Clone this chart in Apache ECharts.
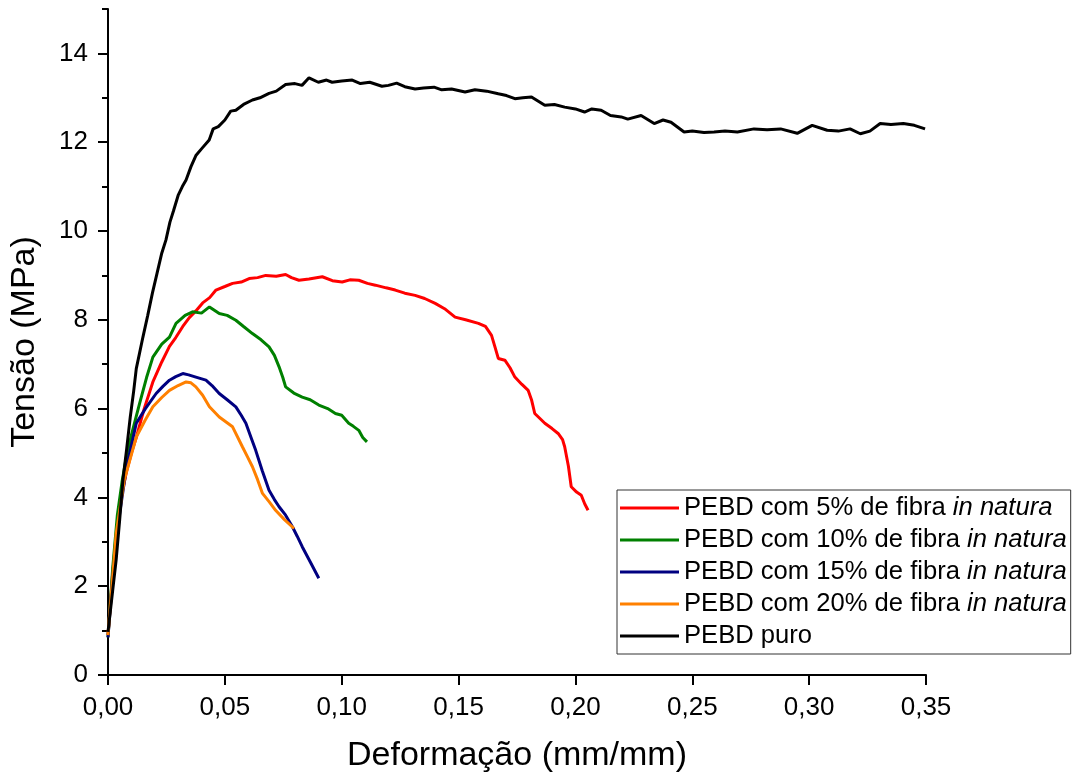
<!DOCTYPE html>
<html>
<head>
<meta charset="utf-8">
<script src="https://cdn.jsdelivr.net/npm/echarts@6/dist/echarts.min.js"></script>
<style>html,body{margin:0;padding:0;background:#fff}#c{width:1079px;height:778px}</style>
</head>
<body>
<div id="c"></div>
<script>
// ---------- DATA ----------
const seriesNames = [
  'PEBD com 5% de fibra in natura',
  'PEBD com 10% de fibra in natura',
  'PEBD com 15% de fibra in natura',
  'PEBD com 20% de fibra in natura',
  'PEBD puro'
];
const seriesColors = ['#ff0000', '#008000', '#000080', '#ff8000', '#000000'];

const strain5 = [0, 0.002, 0.004, 0.006, 0.008, 0.01, 0.0121, 0.0155, 0.0192, 0.023, 0.0263, 0.029, 0.032, 0.0348, 0.0376, 0.0405, 0.0435, 0.0462, 0.05, 0.0533, 0.057, 0.0604, 0.064, 0.0675, 0.072, 0.076, 0.0785, 0.0817, 0.086, 0.0917, 0.096, 0.1002, 0.1035, 0.1073, 0.111, 0.1144, 0.119, 0.1229, 0.127, 0.1314, 0.1355, 0.14, 0.144, 0.1485, 0.153, 0.1585, 0.1615, 0.1641, 0.1655, 0.167, 0.1698, 0.172, 0.1741, 0.177, 0.1798, 0.1812, 0.1826, 0.1869, 0.19, 0.1926, 0.1945, 0.1954, 0.197, 0.1982, 0.2005, 0.2025, 0.204, 0.2054];
const stress5 = [0.9, 2.3, 3.4, 4.1, 4.6, 5.0, 5.35, 6.0, 6.6, 7.05, 7.4, 7.6, 7.85, 8.05, 8.2, 8.38, 8.5, 8.67, 8.75, 8.82, 8.85, 8.93, 8.95, 9.0, 8.98, 9.02, 8.95, 8.89, 8.92, 8.97, 8.88, 8.85, 8.9, 8.89, 8.82, 8.78, 8.72, 8.67, 8.6, 8.55, 8.48, 8.37, 8.25, 8.06, 8.0, 7.92, 7.85, 7.65, 7.4, 7.13, 7.09, 6.92, 6.71, 6.55, 6.41, 6.2, 5.89, 5.67, 5.55, 5.44, 5.3, 5.14, 4.7, 4.24, 4.12, 4.05, 3.85, 3.71];

const strain10 = [0, 0.002, 0.004, 0.006, 0.008, 0.01, 0.0135, 0.0165, 0.0192, 0.023, 0.0263, 0.0291, 0.033, 0.0362, 0.04, 0.0434, 0.0476, 0.051, 0.0547, 0.058, 0.0618, 0.0655, 0.0689, 0.0712, 0.0732, 0.0748, 0.076, 0.0795, 0.0831, 0.0865, 0.0902, 0.094, 0.0973, 0.1, 0.103, 0.105, 0.1073, 0.109, 0.1108];
const stress10 = [0.85, 2.4, 3.6, 4.35, 4.95, 5.4, 6.11, 6.7, 7.16, 7.45, 7.61, 7.92, 8.1, 8.18, 8.15, 8.29, 8.14, 8.1, 7.99, 7.85, 7.69, 7.55, 7.39, 7.2, 6.94, 6.7, 6.49, 6.35, 6.26, 6.2, 6.08, 6.0, 5.89, 5.85, 5.67, 5.6, 5.51, 5.35, 5.25];

const strain15 = [0, 0.002, 0.005, 0.008, 0.0121, 0.016, 0.0206, 0.0235, 0.0263, 0.029, 0.032, 0.0345, 0.0376, 0.0419, 0.0445, 0.0476, 0.051, 0.0547, 0.057, 0.059, 0.0612, 0.0632, 0.066, 0.0689, 0.0712, 0.0732, 0.076, 0.0789, 0.081, 0.0831, 0.0865, 0.0902];
const stress15 = [0.85, 2.2, 3.64, 4.7, 5.67, 6.0, 6.34, 6.5, 6.64, 6.72, 6.79, 6.76, 6.71, 6.64, 6.52, 6.34, 6.2, 6.04, 5.85, 5.67, 5.35, 5.06, 4.6, 4.16, 3.95, 3.79, 3.6, 3.34, 3.12, 2.89, 2.55, 2.18];

const strain20 = [0, 0.0035, 0.007, 0.0121, 0.016, 0.0192, 0.023, 0.0263, 0.03, 0.0334, 0.0355, 0.0376, 0.0405, 0.0434, 0.0476, 0.0533, 0.0575, 0.0598, 0.0618, 0.064, 0.0661, 0.069, 0.0717, 0.0755, 0.0796];
const stress20 = [0.9, 3.19, 4.4, 5.36, 5.75, 6.04, 6.25, 6.41, 6.52, 6.6, 6.58, 6.49, 6.3, 6.04, 5.81, 5.59, 5.14, 4.9, 4.69, 4.4, 4.09, 3.9, 3.71, 3.5, 3.3];

const strainPuro = [0, 0.002, 0.0035, 0.005, 0.0064, 0.008, 0.0095, 0.011, 0.0121, 0.0135, 0.0149, 0.017, 0.019, 0.021, 0.023, 0.0248, 0.0265, 0.028, 0.03, 0.0318, 0.0334, 0.0355, 0.0376, 0.04, 0.0433, 0.045, 0.0472, 0.05, 0.0525, 0.0547, 0.058, 0.0618, 0.065, 0.0689, 0.072, 0.076, 0.08, 0.083, 0.086, 0.09, 0.0935, 0.0959, 0.1, 0.1045, 0.108, 0.112, 0.1172, 0.12, 0.1235, 0.127, 0.1314, 0.135, 0.1395, 0.1428, 0.147, 0.1528, 0.157, 0.162, 0.167, 0.1705, 0.1741, 0.1775, 0.1812, 0.1869, 0.191, 0.1954, 0.2, 0.2039, 0.207, 0.211, 0.215, 0.2196, 0.2224, 0.2281, 0.2337, 0.2375, 0.2409, 0.2465, 0.25, 0.255, 0.2593, 0.264, 0.2693, 0.2764, 0.282, 0.2878, 0.2949, 0.3013, 0.3077, 0.3125, 0.3175, 0.3219, 0.326, 0.3304, 0.335, 0.3403, 0.345, 0.3496];
const stressPuro = [0.97, 1.9, 2.6, 3.5, 4.4, 5.1, 5.8, 6.4, 6.9, 7.25, 7.6, 8.1, 8.6, 9.05, 9.5, 9.8, 10.2, 10.45, 10.8, 11.0, 11.15, 11.45, 11.7, 11.85, 12.05, 12.3, 12.35, 12.5, 12.7, 12.72, 12.85, 12.95, 13.0, 13.1, 13.15, 13.3, 13.32, 13.28, 13.45, 13.35, 13.4, 13.35, 13.38, 13.4, 13.32, 13.35, 13.26, 13.28, 13.33, 13.25, 13.2, 13.22, 13.24, 13.18, 13.2, 13.13, 13.18, 13.15, 13.09, 13.05, 12.98, 13.0, 13.02, 12.83, 12.85, 12.79, 12.75, 12.68, 12.75, 12.72, 12.6, 12.57, 12.52, 12.6, 12.42, 12.5, 12.45, 12.23, 12.25, 12.22, 12.23, 12.25, 12.23, 12.3, 12.28, 12.3, 12.2, 12.38, 12.27, 12.25, 12.3, 12.19, 12.25, 12.42, 12.4, 12.42, 12.38, 12.3];

const yMajorTicks = [0, 2, 4, 6, 8, 10, 12, 14];
const yMinorTicks = [1, 3, 5, 7, 9, 11, 13, 15];
const xAxisTitle = 'Deformação (mm/mm)';
const yAxisTitle = 'Tensão (MPa)';

// ---------- CHART ----------
const FONT = '"Liberation Sans", Arial, sans-serif';
const zip = (xs, ys) => xs.map((x, i) => [x, ys[i]]);
const allData = [
  zip(strain5, stress5),
  zip(strain10, stress10),
  zip(strain15, stress15),
  zip(strain20, stress20),
  zip(strainPuro, stressPuro)
];

const chart = echarts.init(document.getElementById('c'), null, {renderer: 'canvas'});
const axisLine = {show: true, lineStyle: {color: '#000', width: 2}};

chart.setOption({
  animation: false,
  backgroundColor: '#fff',
  grid: {left: 105, right: 153, top: 9, bottom: 103, containLabel: false},
  xAxis: {
    type: 'value', min: 0, max: 0.35, interval: 0.05,
    axisLine: axisLine,
    axisTick: {show: true, inside: false, length: 10, lineStyle: {color: '#000', width: 2}},
    axisLabel: {
      margin: 20, fontSize: 26, color: '#000', fontFamily: FONT,
      formatter: v => v.toFixed(2).replace('.', ',')
    },
    splitLine: {show: false},
    name: xAxisTitle, nameLocation: 'middle', nameGap: 64,
    nameTextStyle: {fontSize: 34, color: '#000', fontFamily: FONT}
  },
  yAxis: [{
    type: 'value', min: 0, max: 15,
    axisLine: axisLine,
    axisTick: {show: true, inside: false, length: 10, customValues: yMajorTicks, lineStyle: {color: '#000', width: 2}},
    axisLabel: {margin: 20, fontSize: 26, color: '#000', fontFamily: FONT, customValues: yMajorTicks},
    splitLine: {show: false},
    name: yAxisTitle, nameLocation: 'middle', nameGap: 66,
    nameTextStyle: {fontSize: 34, color: '#000', fontFamily: FONT}
  }, {
    type: 'value', min: 0, max: 15, position: 'left',
    axisLine: {show: false},
    axisTick: {show: true, inside: false, length: 6, customValues: yMinorTicks, lineStyle: {color: '#000', width: 2}},
    axisLabel: {show: false},
    splitLine: {show: false}
  }],
  legend: {
    orient: 'vertical', left: 617, top: 490,
    borderColor: '#333', borderWidth: 1, backgroundColor: '#fff',
    padding: [5, 4, 5, 3], itemGap: 6, itemWidth: 59, itemHeight: 3,
    icon: 'rect',
    data: seriesNames,
    textStyle: {
      fontSize: 25.6, color: '#000', fontFamily: FONT, lineHeight: 26,
      rich: {
        n: {fontSize: 25.6, color: '#000', fontFamily: FONT, lineHeight: 26},
        i: {fontSize: 25.6, color: '#000', fontFamily: FONT, fontStyle: 'italic', lineHeight: 26}
      }
    },
    formatter: name => {
      const k = name.indexOf('in natura');
      if (k < 0) return '{n|' + name + '}';
      return '{n|' + name.slice(0, k) + '}{i|in natura}';
    }
  },
  series: allData.map((d, i) => ({
    name: seriesNames[i], type: 'line', data: d, yAxisIndex: 0,
    symbol: 'none', showSymbol: false, smooth: false,
    color: seriesColors[i],
    itemStyle: {color: seriesColors[i]},
    lineStyle: {color: seriesColors[i], width: 3}
  }))
});
</script>
</body>
</html>
